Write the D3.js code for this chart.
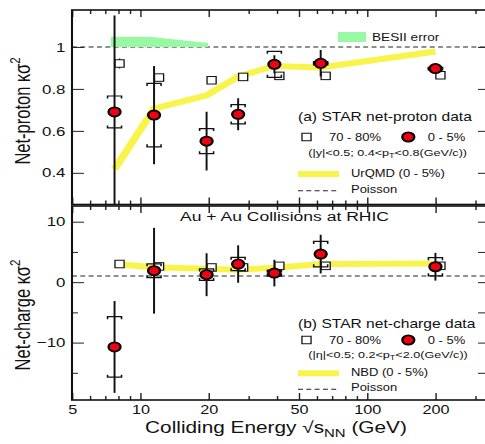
<!DOCTYPE html>
<html>
<head>
<meta charset="utf-8">
<script src="https://cdn.jsdelivr.net/npm/d3@7"></script>
<style>
  html, body { margin: 0; padding: 0; background: #fff; }
  svg { display: block; }
  text { font-family: "Liberation Sans", Arial, Helvetica, sans-serif; fill: #111; }
</style>
</head>
<body>
<svg id="chart" width="485" height="444"></svg>
<script>
// ---------------- data ----------------
const energies = [7.7, 11.5, 19.6, 27, 39, 62.4, 200];

// (a) net-proton kappa*sigma^2
const npCentral      = [0.690, 0.675, 0.551, 0.679, 0.917, 0.922, 0.897];
const npCentralStat  = [0.460, 0.234, 0.140, 0.076, 0.043, 0.063, 0.015];
const npCentralSys   = [0.076, 0.151, 0.060, 0.046, 0.062, 0.008, 0.006];
const npPeripheral     = [0.921, 0.854, 0.841, 0.857, 0.862, 0.862, 0.865];
const npPeripheralStat = [0.024, 0.012, 0.010, 0.010, 0.010, 0.010, 0.010];
const urqmd          = [0.416, 0.706, 0.769, 0.859, 0.909, 0.902, 0.978];
const besEnergies    = [7.4, 11.0, 19.9];
const besUpper       = [1.049, 1.049, 1.019];
const poissonNP      = 1;

// (b) net-charge kappa*sigma^2
const ncCentral      = [-10.72, 1.89, 1.23, 3.00, 1.50, 4.64, 2.55];
const ncCentralStat  = [7.60, 7.10, 3.55, 3.10, 2.20, 3.20, 2.30];
const ncCentralSys   = [5.00, 1.15, 0.95, 1.10, 0.50, 2.10, 1.50];
const ncPeripheral     = [3.00, 2.60, 2.43, 2.43, 2.70, 2.70, 2.70];
const ncPeripheralStat = [0.30, 0.30, 0.30, 0.30, 0.30, 0.30, 0.30];
const nbd            = [3.00, 2.45, 2.20, 2.05, 2.40, 3.00, 3.10];
const poissonNC      = 1;

// axes
const xMajorTicks = [5, 10, 20, 50, 100, 200];
const xMinorTicks = [6, 7, 8, 9, 30, 40, 60, 70, 80, 90, 300];
const yTopTicks = [0.4, 0.6, 0.8, 1];
const yBotTicks = [-10, 0, 10];
const yBotMinor = [-15, -5, 5];

// ---------------- layout ----------------
const S = 1.3;                 // horizontal stretch of the original figure
const X = px => px / S;        // screen px -> internal units
const svg = d3.select("#chart");
svg.append("rect").attr("width", 485).attr("height", 444).attr("fill", "#fff");
const g = svg.append("g").attr("transform", `scale(${S},1)`);

const x = d3.scaleLog().domain([5, 348]).range([X(72), X(490)]);
const yTop = d3.scaleLinear().domain([0.249, 1.176]).range([204.5, 10]);
const yBot = d3.scaleLinear().domain([-19.5, 12.6]).range([400, 206]);
const xL = X(72), xR = X(490);
const sqOff = X(5);

const YELLOW = "#f8f44c", RED = "#f50010", GREEN = "#98f8a4";

// clip paths
const defs = svg.append("defs");
defs.append("clipPath").attr("id", "clipTop").append("rect")
  .attr("x", xL).attr("y", 10).attr("width", xR - xL).attr("height", 194.5);
defs.append("clipPath").attr("id", "clipBot").append("rect")
  .attr("x", xL).attr("y", 206).attr("width", xR - xL).attr("height", 194);

function panel(y, clipId, d) {
  const p = g.append("g");
  const c = p.append("g").attr("clip-path", `url(#${clipId})`);

  // poisson dashed
  c.append("line").attr("x1", xL).attr("x2", xR)
    .attr("y1", y(d.poisson)).attr("y2", y(d.poisson))
    .attr("stroke", "#222").attr("stroke-width", 1).attr("stroke-dasharray", "3.8,2.6");

  if (d.band) {
    const area = d3.area().x(v => x(v[0])).y0(y(1)).y1(v => y(v[1]));
    c.append("path").datum(d.band.xs.map((e, i) => [e, d.band.ys[i]]))
      .attr("d", area).attr("fill", GREEN);
  }

  // model line
  c.append("path").datum(energies.map((e, i) => [e, d.model[i]]))
    .attr("d", d3.line().x(v => x(v[0])).y(v => y(v[1])))
    .attr("fill", "none").attr("stroke", YELLOW).attr("stroke-width", 6)
    .attr("stroke-linejoin", "round");

  // peripheral squares: error + marker
  energies.forEach((e, i) => {
    const cx = x(e) + sqOff;
    c.append("line").attr("x1", cx).attr("x2", cx)
      .attr("y1", y(d.peri[i] + d.periStat[i])).attr("y2", y(d.peri[i] - d.periStat[i]))
      .attr("stroke", "#111").attr("stroke-width", 1);
    c.append("rect").attr("x", cx - 3.5).attr("y", y(d.peri[i]) - 3.75)
      .attr("width", 7).attr("height", 7.5)
      .attr("fill", "#fff").attr("stroke", "#111").attr("stroke-width", 1);
  });

  // central: stat bars, sys caps, markers
  energies.forEach((e, i) => {
    const cx = x(e), v = d.cen[i];
    c.append("line").attr("x1", cx).attr("x2", cx)
      .attr("y1", y(v + d.stat[i])).attr("y2", y(v - d.stat[i]))
      .attr("stroke", "#111").attr("stroke-width", 1.5);
    const hw = X(7);
    const yt = y(v + d.sys[i]), yb = y(v - d.sys[i]);
    c.append("path")
      .attr("d", `M${cx - hw},${yt + 2.5}L${cx - hw},${yt}L${cx + hw},${yt}L${cx + hw},${yt + 2.5}`)
      .attr("fill", "none").attr("stroke", "#111").attr("stroke-width", 1.2);
    c.append("path")
      .attr("d", `M${cx - hw},${yb - 2.5}L${cx - hw},${yb}L${cx + hw},${yb}L${cx + hw},${yb - 2.5}`)
      .attr("fill", "none").attr("stroke", "#111").attr("stroke-width", 1.2);
  });
  energies.forEach((e, i) => {
    c.append("circle").attr("cx", x(e)).attr("cy", y(d.cen[i])).attr("r", 4.6)
      .attr("fill", RED).attr("stroke", "#000").attr("stroke-width", 1.8);
  });
  return p;
}

panel(yTop, "clipTop", {
  poisson: poissonNP, model: urqmd, peri: npPeripheral, periStat: npPeripheralStat,
  cen: npCentral, stat: npCentralStat, sys: npCentralSys,
  band: { xs: besEnergies, ys: besUpper }
});
panel(yBot, "clipBot", {
  poisson: poissonNC, model: nbd, peri: ncPeripheral, periStat: ncPeripheralStat,
  cen: ncCentral, stat: ncCentralStat, sys: ncCentralSys
});

// ---------------- axes / frames ----------------
function clean(sel) { sel.select(".domain").remove(); sel.selectAll("line").attr("stroke", "#222"); }
const tickLenY = X(12), tickLenYm = X(6);

// x ticks on each panel edge
[[10, d3.axisTop], [204.5, d3.axisBottom], [206, d3.axisTop], [400, d3.axisBottom]]
  .forEach(([yy, ax]) => {
    const isBottom = yy === 400;
    const gM = g.append("g").attr("transform", `translate(0,${yy})`)
      .call(ax(x).tickValues(xMajorTicks).tickSize(-7).tickPadding(5)
        .tickFormat(isBottom ? d3.format("d") : () => ""));
    clean(gM);
    gM.selectAll("line").attr("stroke-width", 1.1);
    gM.selectAll("text").attr("font-size", 12.5).attr("fill", "#111")
      .attr("font-family", "Liberation Sans, Arial, sans-serif");
    const gm = g.append("g").attr("transform", `translate(0,${yy})`)
      .call(ax(x).tickValues(xMinorTicks).tickSize(-4).tickFormat(() => ""));
    clean(gm);
    gm.selectAll("line").attr("stroke-width", 1.1);
  });

// y ticks top panel
const yFmt = d => d === 1 ? "1" : d3.format(".1f")(d);
let a = g.append("g").attr("transform", `translate(${xL},0)`)
  .call(d3.axisLeft(yTop).tickValues(yTopTicks).tickSize(-tickLenY).tickPadding(X(6.5)).tickFormat(yFmt));
clean(a);
a.selectAll("text").attr("font-size", 13).attr("fill", "#111").attr("font-family", "Liberation Sans, Arial, sans-serif");
a = g.append("g").attr("transform", `translate(${xR},0)`)
  .call(d3.axisRight(yTop).tickValues(yTopTicks).tickSize(-tickLenY).tickFormat(() => ""));
clean(a);

// y ticks bottom panel
a = g.append("g").attr("transform", `translate(${xL},0)`)
  .call(d3.axisLeft(yBot).tickValues(yBotTicks).tickSize(-tickLenY).tickPadding(X(6.5)).tickFormat(d3.format("d")));
clean(a);
a.selectAll("text").attr("font-size", 13).attr("fill", "#111").attr("font-family", "Liberation Sans, Arial, sans-serif");
a = g.append("g").attr("transform", `translate(${xL},0)`)
  .call(d3.axisLeft(yBot).tickValues(yBotMinor).tickSize(-tickLenYm).tickFormat(() => ""));
clean(a);
a = g.append("g").attr("transform", `translate(${xR},0)`)
  .call(d3.axisRight(yBot).tickValues(yBotTicks.concat(yBotMinor)).tickSize(-tickLenY).tickFormat(() => ""));
clean(a);

// frames
g.append("rect").attr("x", xL).attr("y", 10).attr("width", xR - xL).attr("height", 194.5)
  .attr("fill", "none").attr("stroke", "#111").attr("stroke-width", 1.6);
g.append("rect").attr("x", xL).attr("y", 206).attr("width", xR - xL).attr("height", 194)
  .attr("fill", "none").attr("stroke", "#111").attr("stroke-width", 1.6);

// ---------------- titles ----------------
function yTitle(label, cy, bx) {
  const t = g.append("text").attr("transform", `translate(${X(bx)},${cy}) rotate(-90)`)
    .attr("text-anchor", "middle").attr("font-size", 16.5);
  t.append("tspan").text(label);
  t.append("tspan").attr("dy", -8).attr("font-size", 11.5).text("2");
}
yTitle("Net-proton κσ", 111, 30.5);
yTitle("Net-charge κσ", 315, 30.5);

const xt = g.append("text").attr("x", X(276)).attr("y", 433.5).attr("text-anchor", "middle").attr("font-size", 16);
xt.append("tspan").text("Colliding Energy √s");
xt.append("tspan").attr("dy", 4).attr("font-size", 11.5).text("NN");
xt.append("tspan").attr("dy", -4).text(" (GeV)");

g.append("text").attr("x", X(180)).attr("y", 220.7).attr("font-size", 13.5).text("Au + Au Collisions at RHIC");

// ---------------- legends ----------------
function legend(o) {
  const L = g.append("g");
  L.append("text").attr("x", X(298)).attr("y", o.title).attr("font-size", 12).text(o.titleText);
  const ry = o.row;
  L.append("rect").attr("x", X(306.5) - 3.5).attr("y", ry - 3.75).attr("width", 7).attr("height", 7.5)
    .attr("fill", "#fff").attr("stroke", "#111").attr("stroke-width", 1);
  L.append("text").attr("x", X(329)).attr("y", ry + 4).attr("font-size", 10).text("70 - 80%");
  L.append("circle").attr("cx", X(408.3)).attr("cy", ry).attr("r", 4.6)
    .attr("fill", RED).attr("stroke", "#000").attr("stroke-width", 1.8);
  L.append("text").attr("x", X(427.7)).attr("y", ry + 4).attr("font-size", 10).text("0 - 5%");
  const ct = L.append("text").attr("x", X(308.3)).attr("y", o.cond).attr("font-size", 9.7);
  ct.append("tspan").text(o.cond1);
  ct.append("tspan").attr("dy", 2.5).attr("font-size", 7).text("T");
  ct.append("tspan").attr("dy", -2.5).text(o.cond2);
  L.append("line").attr("x1", X(298)).attr("x2", X(339)).attr("y1", o.model).attr("y2", o.model)
    .attr("stroke", YELLOW).attr("stroke-width", 6);
  L.append("text").attr("x", X(351)).attr("y", o.model + 2.8).attr("font-size", 10).text(o.modelText);
  L.append("line").attr("x1", X(298)).attr("x2", X(338)).attr("y1", o.pois).attr("y2", o.pois)
    .attr("stroke", "#222").attr("stroke-width", 1).attr("stroke-dasharray", "3.8,2.6");
  L.append("text").attr("x", X(351)).attr("y", o.pois + 2.2).attr("font-size", 10).text("Poisson");
}
legend({ title: 120.7, titleText: "(a) STAR net-proton data", row: 137,
  cond: 156, cond1: "(|y|<0.5; 0.4<p", cond2: "<0.8(GeV/c))",
  model: 174, modelText: "UrQMD (0 - 5%)", pois: 190.7 });
legend({ title: 327.7, titleText: "(b) STAR net-charge data", row: 340,
  cond: 357.7, cond1: "(|η|<0.5; 0.2<p", cond2: "<2.0(GeV/c))",
  model: 373.3, modelText: "NBD (0 - 5%)", pois: 389.2 });

// BESII legend
g.append("rect").attr("x", X(338)).attr("y", 32).attr("width", X(28)).attr("height", 10).attr("fill", GREEN);
g.append("text").attr("x", X(372)).attr("y", 40.7).attr("font-size", 10.5).text("BESII error");
</script>
</body>
</html>
